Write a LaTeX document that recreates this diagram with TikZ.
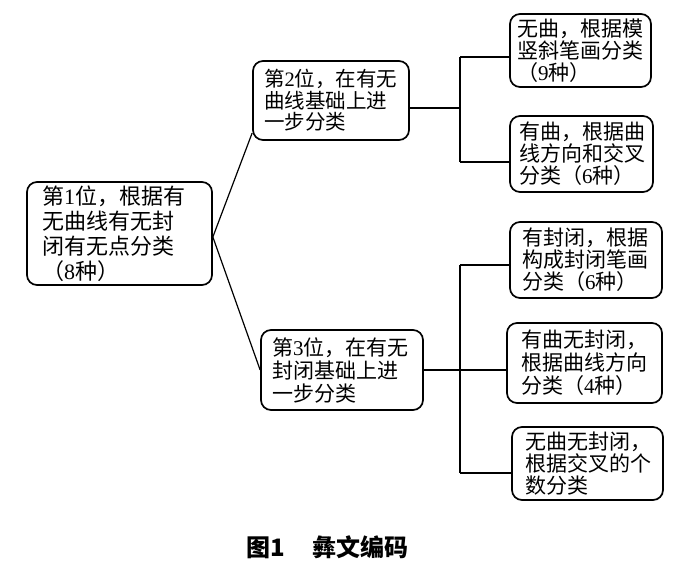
\documentclass[tikz,border=0pt]{standalone}
\usepackage{fontspec}
\setmainfont{Liberation Serif}
\newfontfamily\cjk{Noto Sans CJK SC}
\newfontfamily\numf{Liberation Serif}
\usetikzlibrary{calc}
\tikzset{
  box/.style={draw, line width=1.7pt, rounded corners=10pt, align=left,
    inner ysep=0pt, font=\cjk\fontsize{21}{22}\selectfont},
  conn/.style={line width=1.2pt},
}
\begin{document}
\begin{tikzpicture}[x=1pt,y=-1pt]
\useasboundingbox (0,0) rectangle (700,583);
% level 1
\node[box, font=\cjk\fontsize{22}{25}\selectfont, minimum height=103pt, text width=155pt, inner xsep=15pt] (b1) at (119.5,233.5)
  {第{\numf 1}位，根据有\\无曲线有无封\\闭有无点分类\\（{\numf 8}种）};
% level 2
\node[box, font=\cjk\fontsize{20.5}{21.5}\selectfont, minimum height=79pt, text width=134pt, inner xsep=11pt] (b2) at (331,100.5)
  {第{\numf 2}位，在有无\\曲线基础上进\\一步分类};
\node[box, font=\cjk\fontsize{21}{23}\selectfont, minimum height=80pt, text width=140pt, inner xsep=11pt] (b3) at (342,370)
  {第{\numf 3}位，在有无\\封闭基础上进\\一步分类};
% level 3
\node[box, minimum height=73pt, text width=127pt, inner xsep=7pt] (b4) at (580.5,50.5)
  {无曲，根据模\\竖斜笔画分类\\（{\numf 9}种）};
\node[box, minimum height=76pt, text width=125pt, inner xsep=9pt] (b5) at (581.5,154)
  {有曲，根据曲\\线方向和交叉\\分类（{\numf 6}种）};
\node[box, minimum height=76pt, text width=128pt, inner xsep=12pt] (b6) at (586,260)
  {有封闭，根据\\构成封闭笔画\\分类（{\numf 6}种）};
\node[box, font=\cjk\fontsize{21}{23}\selectfont, minimum height=80pt, text width=127pt, inner xsep=14pt] (b7) at (584.5,363)
  {有曲无封闭，\\根据曲线方向\\分类（{\numf 4}种）};
\node[box, minimum height=73pt, text width=124pt, inner xsep=13.5pt] (b8) at (587.5,463.5)
  {无曲无封闭，\\根据交叉的个\\数分类};
% connectors from level 1
\coordinate (s1) at ($(b1.east)+(0,3.5)$);
\coordinate (e2) at ($(b2.west)+(0,32.5)$);
\draw[conn] (s1) -- (e2);
\draw[conn] (s1) -- (b3.west);
% upper tree
\coordinate (j2) at (460,108);
\coordinate (t4) at (460,57);
\coordinate (t5) at (460,162);
\draw[conn] (b2.east |- j2) -- (j2);
\draw[conn] (t4) -- (t5);
\draw[conn] (t4) -- (t4 -| b4.west);
\draw[conn] (t5) -- (t5 -| b5.west);
% lower tree
\coordinate (j3) at (460,370);
\coordinate (t6) at (460,265);
\coordinate (t8) at (460,473);
\draw[conn] (b3.east |- j3) -- (j3 -| b7.west);
\draw[conn] (t6) -- (t8);
\draw[conn] (t6) -- (t6 -| b6.west);
\draw[conn] (t8) -- (t8 -| b8.west);
% caption
\node[font=\cjk\bfseries\fontsize{24}{26}\selectfont, inner sep=0pt] (cap) at (327.5,547) {图1\hspace{28pt}彝文编码};
\end{tikzpicture}
\end{document}
